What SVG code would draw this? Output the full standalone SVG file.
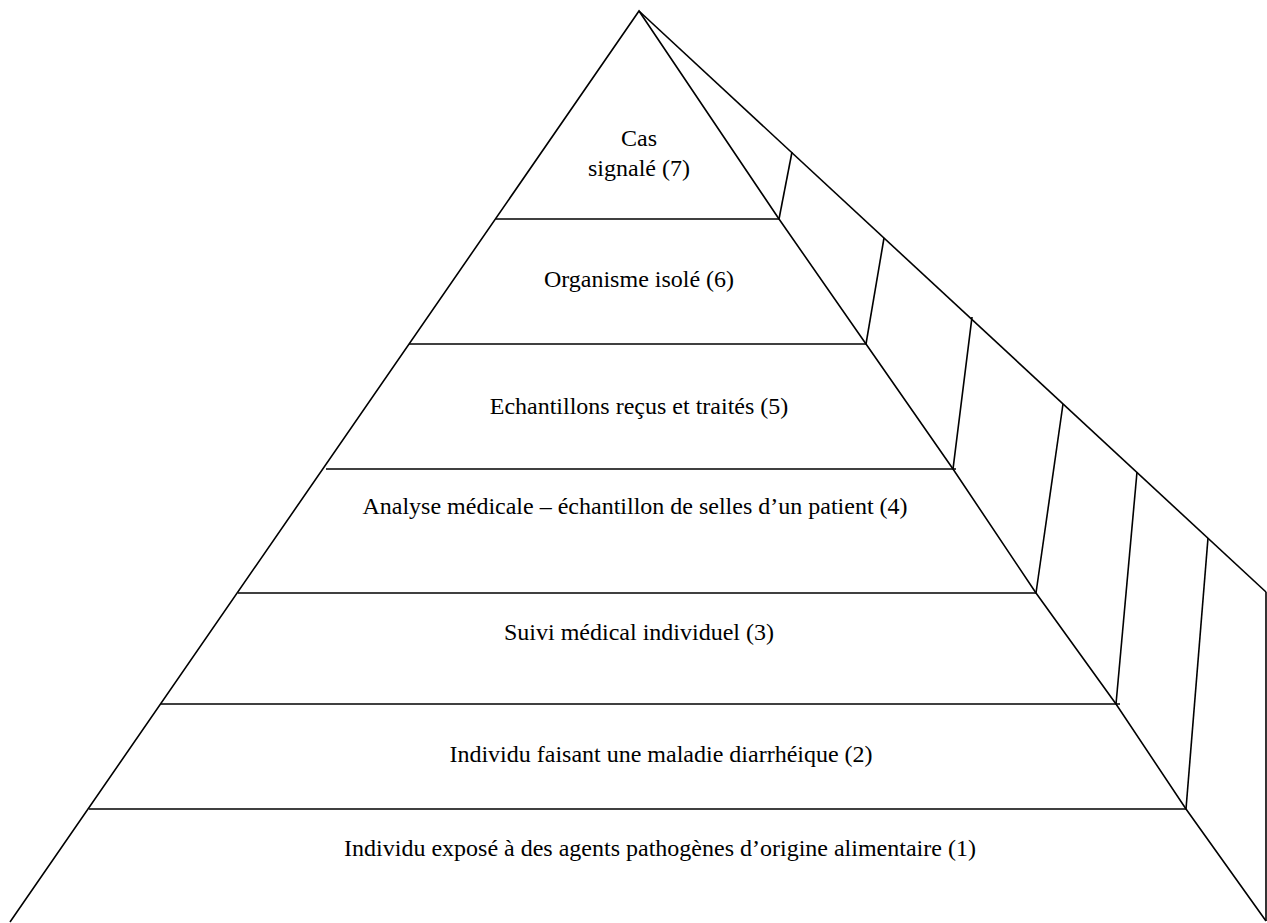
<svg xmlns="http://www.w3.org/2000/svg" width="1267" height="923" viewBox="0 0 1267 923">
<style>
.ln{stroke:#000;stroke-width:1.6;fill:none;stroke-linecap:butt;stroke-linejoin:miter}
.t{font-family:"Liberation Serif","Times New Roman",serif;font-size:24px;fill:#000;text-anchor:middle}
</style>
<rect width="1267" height="923" fill="#fff"/>
<g id="connectors">
<polyline class="ln" points="10,922 639,11 779,219 866,344 953,469 1036,593 1116,704 1186,809 1266,921"/>
<line class="ln" x1="639" y1="11" x2="1266" y2="592"/>
<line class="ln" x1="496" y1="219" x2="779" y2="219"/>
<line class="ln" x1="409" y1="344" x2="866" y2="344"/>
<line class="ln" x1="326" y1="469" x2="956" y2="469"/>
<line class="ln" x1="238" y1="593" x2="1036" y2="593"/>
<line class="ln" x1="161" y1="704" x2="1120" y2="704"/>
<line class="ln" x1="89" y1="809" x2="1186" y2="809"/>
<line class="ln" x1="779" y1="219" x2="792" y2="152"/>
<line class="ln" x1="866" y1="344" x2="884" y2="238"/>
<line class="ln" x1="953" y1="469" x2="972" y2="317"/>
<line class="ln" x1="1036" y1="593" x2="1063" y2="404"/>
<line class="ln" x1="1116" y1="704" x2="1137" y2="472"/>
<line class="ln" x1="1186" y1="809" x2="1208" y2="538"/>
<line class="ln" x1="1266" y1="592" x2="1266" y2="921" stroke-width="1.2"/>
</g>
<g id="tier7"><text class="t" x="639" y="146">Cas</text><text class="t" x="639" y="176">signalé (7)</text></g>
<g id="tier6"><text class="t" x="639" y="287">Organisme isolé (6)</text></g>
<g id="tier5"><text class="t" x="639" y="414">Echantillons reçus et traités (5)</text></g>
<g id="tier4"><text class="t" x="635" y="514">Analyse médicale – échantillon de selles d’un patient (4)</text></g>
<g id="tier3"><text class="t" x="639" y="640">Suivi médical individuel (3)</text></g>
<g id="tier2"><text class="t" x="661" y="762">Individu faisant une maladie diarrhéique (2)</text></g>
<g id="tier1"><text class="t" x="660" y="856">Individu exposé à des agents pathogènes d’origine alimentaire (1)</text></g>
</svg>
